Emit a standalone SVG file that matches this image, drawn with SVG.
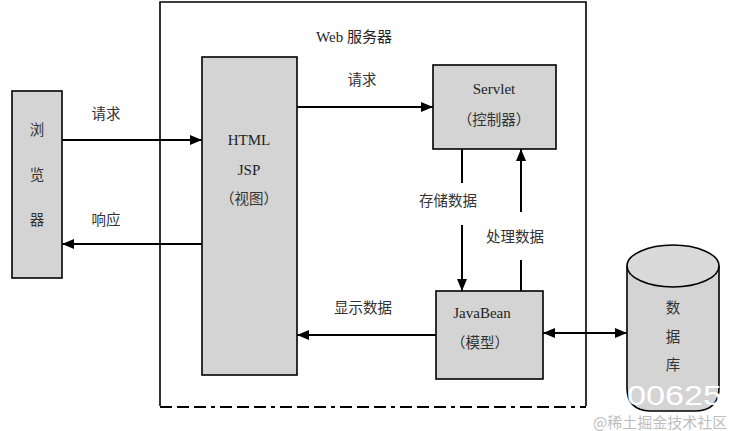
<svg xmlns="http://www.w3.org/2000/svg" width="738" height="431" viewBox="0 0 738 431">
<defs>
<marker id="ah" markerWidth="12" markerHeight="10" refX="12" refY="5" orient="auto" markerUnits="userSpaceOnUse">
<path d="M0,0 L12,5 L0,10 Z" fill="#000"/>
</marker>
<marker id="ahs" markerWidth="12" markerHeight="10" refX="0" refY="5" orient="auto" markerUnits="userSpaceOnUse">
<path d="M12,0 L0,5 L12,10 Z" fill="#000"/>
</marker>
<style>
.box{fill:#d4d4d4;stroke:#000;stroke-width:1.6}
.t{font-family:"Liberation Serif","Noto Sans CJK SC",serif;font-size:15px;fill:#222;text-anchor:middle}
.c{font-family:"Noto Sans CJK SC",sans-serif;font-size:14.5px;fill:#333;text-anchor:middle}
.ln{stroke:#000;stroke-width:2;fill:none}
</style>
</defs>
<rect width="738" height="431" fill="#fff"/>
<g id="webserver">
<path d="M160,406 L160,2 L586,2 L586,406" fill="none" stroke="#000" stroke-width="1.6"/>
<line x1="160" y1="407" x2="586" y2="407" stroke="#000" stroke-width="1.8" stroke-dasharray="12,5,12,5,12,5,4,5"/>
<text class="t" x="354" y="42">Web <tspan font-family="Noto Sans CJK SC">服务器</tspan></text>
</g>
<g id="browser">
<rect class="box" x="12" y="91" width="50" height="187"/>
<text class="c" x="37" y="135">浏</text>
<text class="c" x="37" y="180">览</text>
<text class="c" x="37" y="225">器</text>
</g>
<g id="view">
<rect class="box" x="202" y="57" width="95" height="318"/>
<text class="t" x="249" y="145">HTML</text>
<text class="t" x="249" y="175">JSP</text>
<text class="c" x="249" y="204">（视图）</text>
</g>
<g id="servlet">
<rect class="box" x="433" y="65" width="123" height="84"/>
<text class="t" x="494" y="94">Servlet</text>
<text class="c" x="494" y="125">（控制器）</text>
</g>
<g id="javabean">
<rect class="box" x="436" y="291" width="107" height="88"/>
<text class="t" x="482" y="318">JavaBean</text>
<text class="c" x="480" y="348">（模型）</text>
</g>
<g id="database">
<path d="M627,266 L627,388 Q627,410 650,411 L696,411 Q719,410 719,388 L719,266" fill="#d4d4d4" stroke="#000" stroke-width="1.6"/>
<ellipse cx="673" cy="266" rx="46" ry="21" fill="#dadada" stroke="#000" stroke-width="1.6"/>
<text class="c" x="673" y="313">数</text>
<text class="c" x="673" y="342">据</text>
<text class="c" x="673" y="370">库</text>
</g>
<g id="connectors">
<line class="ln" x1="62" y1="140" x2="202" y2="140" marker-end="url(#ah)"/>
<line class="ln" x1="202" y1="244" x2="62" y2="244" marker-end="url(#ah)"/>
<line class="ln" x1="297" y1="107" x2="433" y2="107" marker-end="url(#ah)"/>
<line class="ln" x1="462" y1="149" x2="462" y2="183"/>
<line class="ln" x1="462" y1="225" x2="462" y2="291" marker-end="url(#ah)"/>
<line class="ln" x1="521" y1="291" x2="521" y2="260"/>
<line class="ln" x1="521" y1="212" x2="521" y2="149" marker-end="url(#ah)"/>
<line class="ln" x1="436" y1="335" x2="297" y2="335" marker-end="url(#ah)"/>
<line class="ln" x1="543" y1="333" x2="627" y2="333" marker-start="url(#ahs)" marker-end="url(#ah)"/>
<text class="c" x="106" y="119">请求</text>
<text class="c" x="106" y="225">响应</text>
<text class="c" x="362" y="85">请求</text>
<text class="c" x="448" y="206">存储数据</text>
<text class="c" x="515" y="242">处理数据</text>
<text class="c" x="363" y="313">显示数据</text>
</g>
<g id="watermark">
<text x="627" y="405" font-family="Liberation Sans,sans-serif" font-size="28" textLength="95" lengthAdjust="spacingAndGlyphs" fill="#fff">00625</text>
<text x="593" y="428" font-family="Noto Sans CJK SC,sans-serif" font-size="15" fill="#bdbdbd">@稀土掘金技术社区</text>
</g>
</svg>
